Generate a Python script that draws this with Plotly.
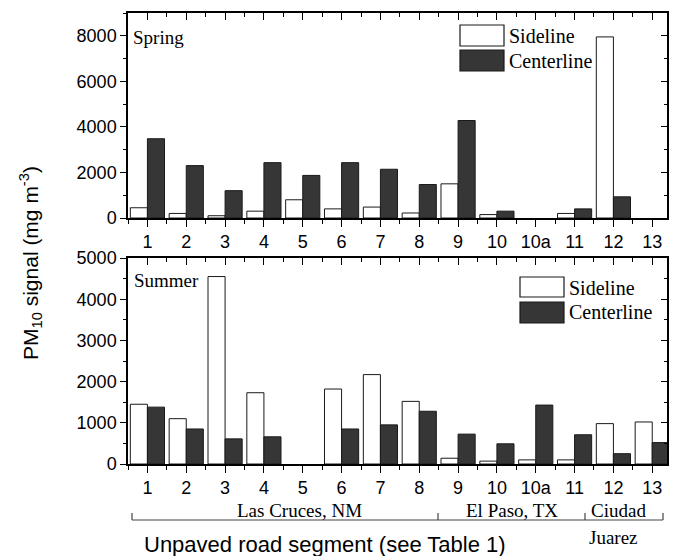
import plotly.graph_objects as go

segments = ["1", "2", "3", "4", "5", "6", "7", "8", "9", "10", "10a", "11", "12", "13"]
spring_sideline = [450, 200, 100, 300, 800, 400, 480, 220, 1500, 150, None, 200, 7950, None]
spring_centerline = [3480, 2300, 1200, 2430, 1870, 2430, 2140, 1470, 4280, 300, None, 400, 930, None]
summer_sideline = [1450, 1100, 4550, 1730, None, 1820, 2170, 1520, 140, 70, 100, 100, 980, 1020]
summer_centerline = [1380, 850, 610, 660, None, 850, 950, 1280, 725, 490, 1430, 710, 250, 520]
groups = ["Las Cruces, NM", "El Paso, TX", "Ciudad", "Juarez"]

# page body has an 8px margin; figure is sized so it fills the window exactly
OFF = 8
W, H = 678 - OFF, 556 - OFF
ML, MR, MT, MB = 128 - OFF, 11, 13 - OFF, 556 - 464
PW, PH = W - ML - MR, H - MT - MB


def fx(sx):
    return (sx - OFF - ML) / PW


def fy(sy):
    return (H - MB - (sy - OFF)) / PH


xpos = list(range(len(segments)))
DARK = "#363636"
SANS = "Liberation Sans, Arial, sans-serif"
SERIF = "Liberation Serif, Times New Roman, serif"

fig = go.Figure()
bar_line = dict(color="#1a1a1a", width=1)
fig.add_trace(go.Bar(x=xpos, y=spring_sideline, name="Sideline", marker=dict(color="white", line=bar_line),
                     xaxis="x", yaxis="y", showlegend=False))
fig.add_trace(go.Bar(x=xpos, y=spring_centerline, name="Centerline", marker=dict(color=DARK, line=bar_line),
                     xaxis="x", yaxis="y", showlegend=False))
fig.add_trace(go.Bar(x=xpos, y=summer_sideline, name="Sideline", marker=dict(color="white", line=bar_line),
                     xaxis="x2", yaxis="y2", showlegend=False))
fig.add_trace(go.Bar(x=xpos, y=summer_centerline, name="Centerline", marker=dict(color=DARK, line=bar_line),
                     xaxis="x2", yaxis="y2", showlegend=False))
# invisible traces that carry the mirror (top/right) axes
fig.add_trace(go.Scatter(x=[0], y=[0], mode="markers", marker=dict(opacity=0), xaxis="x3", yaxis="y3",
                         showlegend=False, hoverinfo="skip"))
fig.add_trace(go.Scatter(x=[0], y=[0], mode="markers", marker=dict(opacity=0), xaxis="x4", yaxis="y4",
                         showlegend=False, hoverinfo="skip"))

xr = [-0.5, 13.38]
half = [i + 0.5 for i in range(-1, len(segments))]
top_dom = [fy(218), 1.0]
bot_dom = [0.0, fy(258)]

LW = 1.5


def xax(anchor, side, ticks, labels, overlay=None):
    d = dict(range=xr, anchor=anchor, side=side, showline=True, linecolor="black", linewidth=LW,
             ticks=ticks, ticklen=7, tickwidth=1.4, tickcolor="black",
             tickmode="array", tickvals=xpos, ticktext=segments, showticklabels=labels,
             tickfont=dict(family=SANS, size=18, color="black"),
             minor=dict(tickmode="array", tickvals=half, ticks=ticks, ticklen=4, tickwidth=1.2, tickcolor="black"),
             showgrid=False, zeroline=False, fixedrange=True)
    if overlay:
        d["overlaying"] = overlay
    return d


def yax(anchor, side, ticks, labels, rng, dtick, mdtick, domain=None, overlay=None):
    d = dict(range=rng, anchor=anchor, side=side, showline=True, linecolor="black", linewidth=LW,
             ticks=ticks, ticklen=6, tickwidth=1.4, tickcolor="black",
             tick0=0, dtick=dtick, showticklabels=labels,
             tickfont=dict(family=SANS, size=18, color="black"),
             minor=dict(tick0=0, dtick=mdtick, ticks=ticks, ticklen=3.5, tickwidth=1.2, tickcolor="black"),
             showgrid=False, zeroline=False, fixedrange=True)
    if domain is not None:
        d["domain"] = domain
    if overlay:
        d["overlaying"] = overlay
    return d


fig.update_layout(
    width=W, height=H,
    margin=dict(l=ML, r=MR, t=MT, b=MB, autoexpand=False),
    paper_bgcolor="white", plot_bgcolor="white",
    barmode="group", bargap=0.12, bargroupgap=0,
    xaxis=xax("y", "bottom", "outside", True),
    yaxis=yax("x", "left", "outside", True, [0, 9000], 2000, 1000, domain=top_dom),
    xaxis2=xax("y2", "bottom", "outside", True),
    yaxis2=yax("x2", "left", "outside", True, [0, 5000], 1000, 500, domain=bot_dom),
    xaxis3=xax("y3", "top", "inside", False, overlay="x"),
    yaxis3=yax("x3", "right", "inside", False, [0, 9000], 2000, 1000, overlay="y"),
    xaxis4=xax("y4", "top", "inside", False, overlay="x2"),
    yaxis4=yax("x4", "right", "inside", False, [0, 5000], 1000, 500, overlay="y2"),
)

shapes = []
annotations = []

# legend boxes (drawn like the original's large swatches)
for (x0, x1, y0, y1, fill) in [
    (460, 504, 25, 46, "white"), (460, 504, 50, 71, DARK),
    (520, 564, 277, 297, "white"), (520, 564, 302, 323, DARK),
]:
    shapes.append(dict(type="rect", xref="paper", yref="paper", x0=fx(x0), x1=fx(x1), y0=fy(y1), y1=fy(y0),
                       fillcolor=fill, line=dict(color="#1a1a1a", width=1.2)))

for (txt, x, y) in [("Sideline", 507, 36), ("Centerline", 507, 61), ("Sideline", 567, 288), ("Centerline", 567, 312)]:
    annotations.append(dict(text=txt, xref="paper", yref="paper", x=fx(x), y=fy(y), xanchor="left", yanchor="middle",
                            showarrow=False, font=dict(family=SERIF, size=20, color="black")))

for (txt, x, y) in [("Spring", 131, 38), ("Summer", 132, 280)]:
    annotations.append(dict(text=txt, xref="paper", yref="paper", x=fx(x), y=fy(y), xanchor="left", yanchor="middle",
                            showarrow=False, font=dict(family=SERIF, size=19, color="black")))

# group brackets
BY, BT = 520, 513
bc = dict(color="#444444", width=1.2)
shapes.append(dict(type="line", xref="paper", yref="paper", x0=fx(132), x1=fx(663), y0=fy(BY), y1=fy(BY), line=bc))
for bx in [132, 438, 585, 663]:
    shapes.append(dict(type="line", xref="paper", yref="paper", x0=fx(bx), x1=fx(bx), y0=fy(BY), y1=fy(BT), line=bc))

for (txt, x, y) in [(groups[0], 299, 510), (groups[1], 512, 510), (groups[2], 618, 510), (groups[3], 613, 537)]:
    annotations.append(dict(text=txt, xref="paper", yref="paper", x=fx(x), y=fy(y), xanchor="center", yanchor="middle",
                            showarrow=False, font=dict(family=SERIF, size=19, color="black")))

# axis titles
annotations.append(dict(text="Unpaved road segment (see Table 1)", xref="paper", yref="paper",
                        x=fx(325), y=fy(544), xanchor="center", yanchor="middle", showarrow=False,
                        font=dict(family=SANS, size=22, color="black")))
annotations.append(dict(text="PM<sub>10</sub> signal (mg m<sup>-3</sup>)", xref="paper", yref="paper",
                        x=fx(30), y=fy(263), xanchor="center", yanchor="middle", showarrow=False, textangle=-90,
                        font=dict(family=SANS, size=21, color="black")))

fig.update_layout(shapes=shapes, annotations=annotations)
fig.write_html("out.html")
